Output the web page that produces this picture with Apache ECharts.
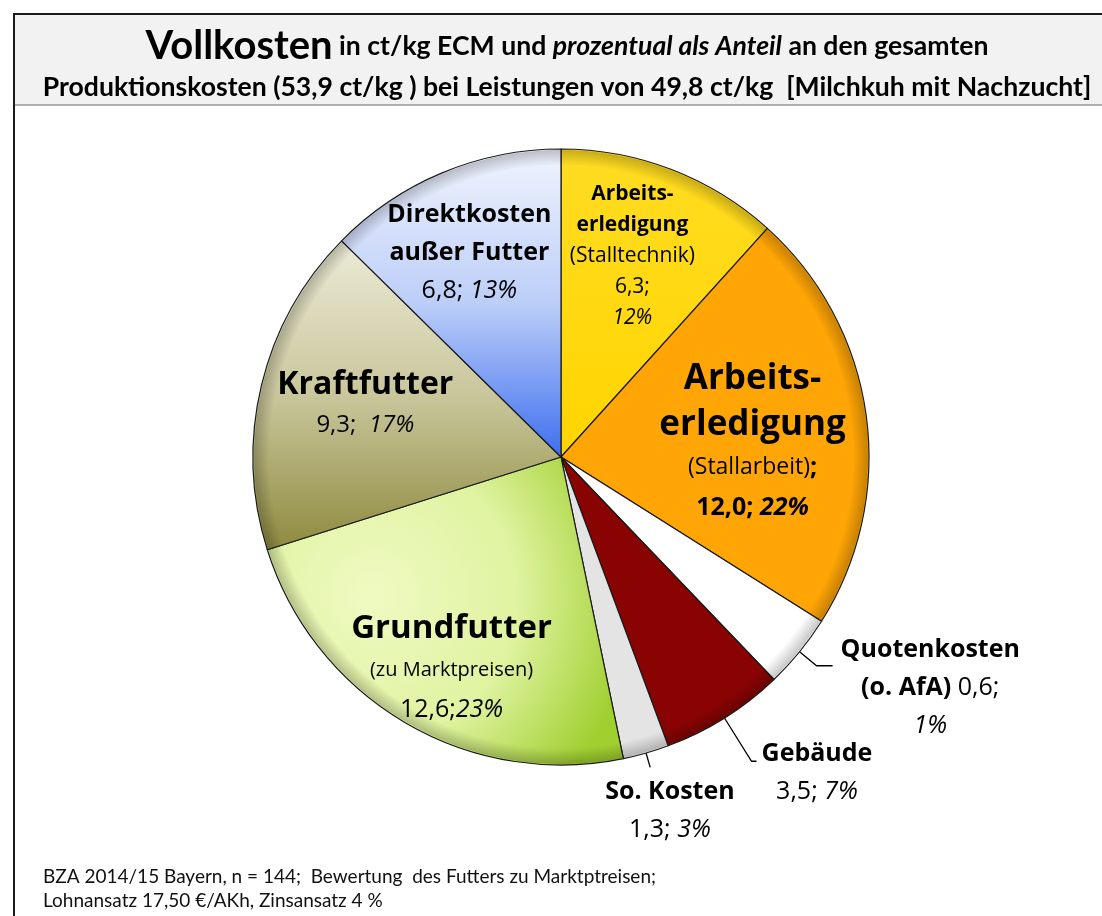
<!DOCTYPE html>
<html>
<head>
<meta charset="utf-8">
<script src="https://cdn.jsdelivr.net/npm/echarts@6/dist/echarts.min.js"></script>
<style>
  html, body { margin: 0; padding: 0; background: #fff; }
  #chart { width: 1102px; height: 916px; }
</style>
</head>
<body>
<div id="chart"></div>
<script>
// Vollkosten in ct/kg ECM, Milchkuh mit Nachzucht (BZA 2014/15 Bayern)
const costNames = [
  'Arbeitserledigung (Stalltechnik)',
  'Arbeitserledigung (Stallarbeit)',
  'Quotenkosten (o. AfA)',
  'Gebäude',
  'So. Kosten',
  'Grundfutter (zu Marktpreisen)',
  'Kraftfutter',
  'Direktkosten außer Futter'
]
// slice sizes as drawn (ct/kg)
const costValues = [6.3, 12.0, 2.1, 3.5, 1.3, 12.6, 9.3, 6.8]
// printed values and shares
const valueTexts = ['6,3', '12,0', '0,6', '3,5', '1,3', '12,6', '9,3', '6,8']
const shareTexts = ['12%', '22%', '1%', '7%', '3%', '23%', '17%', '13%']

const titleLine1 = ['Vollkosten', ' in ct/kg ECM und ', 'prozentual als Anteil', ' an den gesamten']
const titleLine2 = 'Produktionskosten (53,9 ct/kg ) bei Leistungen von 49,8 ct/kg  [Milchkuh mit Nachzucht]'
const footnote = [
  'BZA 2014/15 Bayern, n = 144;  Bewertung  des Futters zu Marktptreisen;',
  'Lohnansatz 17,50 €/AKh, Zinsansatz 4 %'
]

const F = 'Open Sans'

function grad (x2, y2, stops) {
  return { type: 'linear', x: 0, y: 0, x2: x2, y2: y2, colorStops: stops.map((c, i) => ({ offset: i / (stops.length - 1), color: c })) }
}

const sliceColors = [
  grad(0, 1, ['#FFDC22', '#FFD500']),
  '#FFA505',
  '#FFFFFF',
  '#8A0303',
  '#E4E4E4',
  { type: 'radial', x: 0.3, y: 0.45, r: 0.85, colorStops: [
    { offset: 0, color: '#EFFAC2' }, { offset: 0.55, color: '#DFF3A0' }, { offset: 1, color: '#A0CF30' }] },
  grad(0, 1, ['#ECEBD6', '#C9C69C', '#8E8A3E']),
  grad(0, 1, ['#F0F4FD', '#BCCEF8', '#3E6EEF'])
]

function labelText (i) {
  const v = valueTexts[i]
  const s = shareTexts[i]
  switch (i) {
    case 0: return '{yb|Arbeits-}\n{yb|erledigung}\n{yn|(Stalltechnik)}\n{yn|' + v + ';}\n{yi|' + s + '}'
    case 1: return '{ob|Arbeits-}\n{ob|erledigung}\n{on|(Stallarbeit)}{obs|;}\n{obs|' + v + '; }{obi|' + s + '}'
    case 2: return '{mb|Quotenkosten}\n{mb|(o. AfA)}{mn| ' + v + ';}\n{mi|' + s + '}'
    case 3: return '{mb|Gebäude}\n{mn|' + v + '; }{mi|' + s + '}'
    case 4: return '{mb|So. Kosten}\n{mn|' + v + '; }{mi|' + s + '}'
    case 5: return '{gb|Grundfutter}\n{gs|(zu Marktpreisen)}\n{mn|' + v + ';}{mi|' + s + '}'
    case 6: return '{kb|Kraftfutter}\n{kn|' + v + ';  }{ki|' + s + '}'
    default: return '{mb|Direktkosten}\n{mb|außer Futter}\n{mn|' + v + '; }{mi|' + s + '}'
  }
}

function rs (size, weight, style, lh) {
  return { fontFamily: F, fontSize: size, fontWeight: weight, fontStyle: style, lineHeight: lh, color: '#000', align: 'center' }
}

const rich = {
  yb: rs(21, 'bold', 'normal', 31),
  yn: rs(21, 'normal', 'normal', 31),
  yi: rs(21, 'normal', 'italic', 31),
  ob: rs(35, 'bold', 'normal', 46),
  on: rs(23, 'normal', 'normal', 40),
  obs: rs(25, 'bold', 'normal', 40),
  obi: rs(25, 'bold', 'italic', 40),
  mb: rs(25, 'bold', 'normal', 38),
  mn: rs(25, 'normal', 'normal', 38),
  mi: rs(25, 'normal', 'italic', 38),
  gb: rs(33, 'bold', 'normal', 44),
  gs: rs(20, 'normal', 'normal', 40),
  kb: rs(32, 'bold', 'normal', 44),
  kn: rs(24, 'normal', 'normal', 36),
  ki: rs(24, 'normal', 'italic', 36)
}

// label shift from the library's default label position
const labelShift = [[15, -54], [36, 6], [3, 22], [0, 12], [-50, 43], [-30, 75], [-43, -17], [-31, -59]]
const outsideLine = { 2: [22, 16], 3: [51, 5], 4: [15, 0] }

const pieData = costNames.map((name, i) => {
  const item = {
    name: name,
    value: costValues[i],
    itemStyle: { color: sliceColors[i] }
  }
  if (outsideLine[i]) {
    item.label = { position: 'outside' }
    item.labelLine = { show: true, length: outsideLine[i][0], length2: outsideLine[i][1], lineStyle: { color: '#000', width: 1.3 } }
  }
  return item
})

// same slices again, only to darken the rim (bevel look)
const rimData = costValues.map(v => ({ value: v }))

const chart = echarts.init(document.getElementById('chart'))
chart.setOption({
  backgroundColor: '#fff',
  animation: false,
  graphic: [
    { type: 'rect', z: 0, shape: { x: 14, y: 14, width: 1100, height: 91 }, style: { fill: '#F2F2F2' } },
    { type: 'line', z: 0, shape: { x1: 14, y1: 105, x2: 1102, y2: 105 }, style: { stroke: '#666', lineWidth: 1 } },
    { type: 'rect', z: 1, shape: { x: 14, y: 14, width: 1110, height: 920 }, style: { fill: 'none', stroke: '#1a1a1a', lineWidth: 2 } }
  ],
  title: [
    {
      left: 562,
      textAlign: 'center',
      top: 20,
      text: '{big|' + titleLine1[0] + '}{b|' + titleLine1[1] + '}{bi|' + titleLine1[2] + '}{b|' + titleLine1[3] + '}\n{b|' + titleLine2 + '}',
      textStyle: {
        rich: {
          big: { fontFamily: 'Lato', fontSize: 40, fontWeight: 'bold', color: '#000', lineHeight: 42 },
          b: { fontFamily: 'Lato', fontSize: 26.6, fontWeight: 'bold', color: '#000', lineHeight: 40 },
          bi: { fontFamily: 'Lato', fontSize: 26.6, fontWeight: 'bold', fontStyle: 'italic', color: '#000', lineHeight: 40 }
        }
      }
    },
    {
      left: 38,
      top: 860,
      text: footnote.join('\n'),
      textStyle: { fontFamily: 'Lato', fontSize: 19, fontWeight: 'normal', color: '#111', lineHeight: 24 }
    }
  ],
  series: [{
    type: 'pie',
    center: [561, 457],
    radius: 308,
    startAngle: 90,
    clockwise: true,
    avoidLabelOverlap: false,
    itemStyle: { borderColor: '#1a1a1a', borderWidth: 1.2 },
    label: {
      show: true,
      position: 'inside',
      formatter: p => labelText(p.dataIndex),
      rich: rich
    },
    labelLine: { show: false },
    labelLayout: function (params) {
      const s = labelShift[params.dataIndex]
      const out = { dx: s[0], dy: s[1] }
      if (params.labelLinePoints) out.labelLinePoints = params.labelLinePoints
      return out
    },
    data: pieData,
    z: 2
  }, {
    type: 'pie',
    center: [561, 457],
    radius: 307,
    startAngle: 90,
    clockwise: true,
    silent: true,
    label: { show: false },
    labelLine: { show: false },
    itemStyle: {
      borderWidth: 0,
      color: { type: 'radial', x: 561, y: 457, r: 307, global: true, colorStops: [
        { offset: 0, color: 'rgba(0,0,0,0)' },
        { offset: 0.95, color: 'rgba(0,0,0,0)' },
        { offset: 1, color: 'rgba(0,0,0,0.22)' }] }
    },
    data: rimData,
    z: 3
  }]
})
</script>
</body>
</html>
